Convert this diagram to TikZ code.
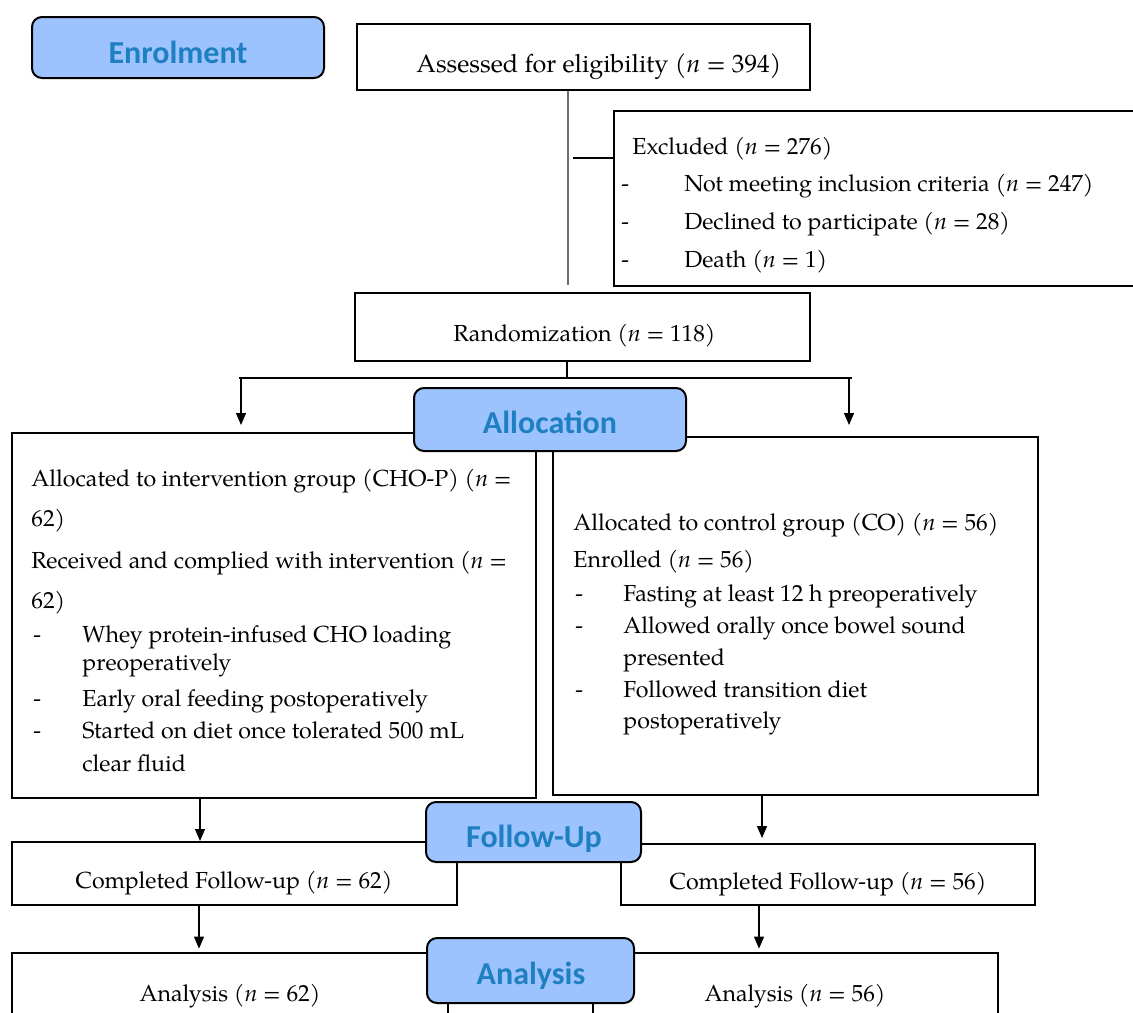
\documentclass[tikz,border=0pt]{standalone}
\usepackage{fontspec}
\setmainfont{texgyrepagella}[Extension=.otf,UprightFont=*-regular,ItalicFont=*-italic,BoldFont=*-bold,BoldItalicFont=*-bolditalic]
\newfontfamily\lblfont{Carlito}
\usetikzlibrary{fit,arrows.meta}
\definecolor{lblfill}{RGB}{157,195,255}
\definecolor{lbltext}{RGB}{31,128,193}
\definecolor{thingray}{RGB}{110,110,110}
\tikzset{
  box/.style={draw=black, line width=1pt, inner sep=0pt},
  openbox/.style={draw=none, inner sep=0pt},
  lbl/.style={draw=black, line width=1pt, rounded corners=5pt, fill=lblfill, inner sep=0pt},
  lbltxt/.style={anchor=base, inner sep=0pt, text=lbltext, font=\lblfont\bfseries\fontsize{16}{18}\selectfont},
  txt/.style={anchor=base west, inner sep=0pt, font=\fontsize{11.6}{14}\selectfont},
  ctxt/.style={anchor=base, inner sep=0pt, font=\fontsize{11.6}{14}\selectfont},
  bline/.style={line width=1pt},
  gline/.style={line width=0.7pt, draw=thingray},
  arr/.style={line width=0.65pt, -{Triangle[length=6pt,width=5pt]}}
}
\begin{document}
\begin{tikzpicture}[x=0.5pt,y=-0.5pt]
\useasboundingbox (0,0) rectangle (1133,1012);
\fill[white] (0,0) rectangle (1133,1012);

% ---------- boxes ----------
\node[box, fit={(357,24)(810,90)}] (assess) {};
\node[txt, font=\fontsize{12.6}{15}\selectfont] (assesst) at (416,72) {Assessed for eligibility (\textit{n} = 394)};

\node[openbox, fit={(614,111)(1133,286)}] (excl) {};
\draw[bline] (excl.north east) -- (excl.north west) -- (excl.south west) -- (excl.south east);
\node[txt] (ex0) at (632,154) {Excluded (\textit{n} = 276)};
\node[txt] (ex1d) at (621,191) {-};
\node[txt] (ex1) at (684,191) {Not meeting inclusion criteria (\textit{n} = 247)};
\node[txt] (ex2d) at (621,229) {-};
\node[txt] (ex2) at (684,229) {Declined to participate (\textit{n} = 28)};
\node[txt] (ex3d) at (621,267) {-};
\node[txt] (ex3) at (684,267) {Death (\textit{n} = 1)};

\node[box, fit={(355,293)(810,361)}] (rand) {};
\node[txt] (randt) at (453,341) {Randomization (\textit{n} = 118)};

\node[box, fit={(12,433)(536,798)}] (leftbox) {};
\node[txt] (l1) at (31,486) {Allocated to intervention group (CHO-P) (\textit{n} =};
\node[txt] (l2) at (31,526) {62)};
\node[txt] (l3) at (31,568) {Received and complied with intervention (\textit{n} =};
\node[txt] (l4) at (31,608) {62)};
\node[txt] (l5d) at (33,642) {-};
\node[txt] (l5) at (82,642) {Whey protein-infused CHO loading};
\node[txt] (l6) at (82,670) {preoperatively};
\node[txt] (l7d) at (33,706) {-};
\node[txt] (l7) at (82,706) {Early oral feeding postoperatively};
\node[txt] (l8d) at (33,738) {-};
\node[txt] (l8) at (82,738) {Started on diet once tolerated 500 mL};
\node[txt] (l9) at (82,771) {clear fluid};

\node[box, fit={(553,437)(1038,795)}] (rightbox) {};
\node[txt] (r1) at (573,530) {Allocated to control group (CO) (\textit{n} = 56)};
\node[txt] (r2) at (573,567) {Enrolled (\textit{n} = 56)};
\node[txt] (r3d) at (575,601) {-};
\node[txt] (r3) at (623,601) {Fasting at least 12 h preoperatively};
\node[txt] (r4d) at (575,633) {-};
\node[txt] (r4) at (623,633) {Allowed orally once bowel sound};
\node[txt] (r5) at (623,665) {presented};
\node[txt] (r6d) at (575,697) {-};
\node[txt] (r6) at (623,697) {Followed transition diet};
\node[txt] (r7) at (623,728) {postoperatively};

\node[box, fit={(12,842)(457,905)}] (compL) {};
\node[ctxt] (compLt) at (234,888) {Completed Follow-up (\textit{n} = 62)};
\node[box, fit={(621,844)(1035,905)}] (compR) {};
\node[ctxt] (compRt) at (828,889) {Completed Follow-up (\textit{n} = 56)};

\node[openbox, fit={(12,953)(448,1030)}] (anaL) {};
\draw[bline] (anaL.south west) -- (anaL.north west) -- (anaL.north east) -- (anaL.south east);
\node[ctxt] (anaLt) at (230,1001) {Analysis (\textit{n} = 62)};
\node[openbox, fit={(593,953)(998,1030)}] (anaR) {};
\draw[bline] (anaR.south west) -- (anaR.north west) -- (anaR.north east) -- (anaR.south east);
\node[ctxt] (anaRt) at (795,1001) {Analysis (\textit{n} = 56)};

% ---------- connectors ----------
\coordinate (xa) at (568,0);
\draw[gline, shorten >=3.5pt] (assess.south -| xa) -- (rand.north -| xa);
\coordinate (exh) at (573,158);
\draw[bline] (exh) -- (exh -| excl.west);

\coordinate (br) at (567,378);
\coordinate (brL) at (239,378);
\coordinate (brR) at (852,378);
\draw[bline] (rand.south -| br) -- (br);
\draw[bline] (brL) -- (brR);
\coordinate (aL) at (241,425);
\coordinate (aR) at (849,425);
\draw[arr] (aL |- brL) -- (aL);
\draw[arr] (aR |- brR) -- (aR);

\coordinate (c200) at (200,0);
\coordinate (c762) at (762,0);
\coordinate (c199) at (199,0);
\coordinate (c759) at (759,0);
\draw[arr] (leftbox.south -| c200) -- (compL.north -| c200);
\draw[arr, shorten >=2.5pt] (rightbox.south -| c762) -- (compR.north -| c762);
\draw[arr, shorten >=2pt] (compL.south -| c199) -- (anaL.north -| c199);
\draw[arr, shorten >=2pt] (compR.south -| c759) -- (anaR.north -| c759);

% ---------- stage labels ----------
\node[lbl, fit={(32,17)(324,78)}] (enrol) {};
\node[lbltxt] (enrolt) at (178,63) {Enrolment};
\node[lbl, fit={(414,388)(686,451)}] (alloc) {};
\node[lbltxt] (alloct) at (550,433) {Allocation};
\node[lbl, fit={(426,802)(641,862)}] (follow) {};
\node[lbltxt] (followt) at (534,847) {Follow-Up};
\node[lbl, fit={(427,938)(634,1003)}] (anal) {};
\node[lbltxt] (analt) at (531,984) {Analysis};
\end{tikzpicture}
\end{document}
